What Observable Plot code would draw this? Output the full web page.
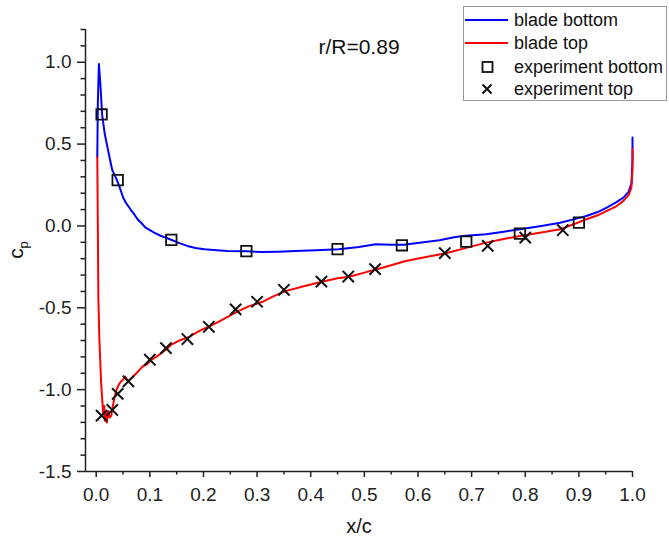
<!DOCTYPE html>
<html>
<head>
<meta charset="utf-8">
<script src="https://cdn.jsdelivr.net/npm/d3@7"></script>
<script src="https://cdn.jsdelivr.net/npm/@observablehq/plot@0.6"></script>
<style>
  html, body { margin: 0; padding: 0; background: #ffffff; }
  #chart { width: 669px; height: 540px; }
</style>
</head>
<body>
<div id="chart"></div>
<script>
// ---- Data ----
const bottomX = [0.002, 0.003, 0.005, 0.008, 0.011, 0.016, 0.021, 0.026, 0.030, 0.036, 0.041, 0.046, 0.050, 0.055, 0.060, 0.064, 0.070, 0.077, 0.085, 0.092, 0.100, 0.108, 0.120, 0.130, 0.141, 0.155, 0.170, 0.185, 0.202, 0.225, 0.245, 0.280, 0.309, 0.340, 0.371, 0.410, 0.452, 0.490, 0.521, 0.550, 0.574, 0.610, 0.640, 0.665, 0.683, 0.727, 0.760, 0.790, 0.830, 0.865, 0.890, 0.914, 0.935, 0.952, 0.970, 0.983, 0.993, 0.998, 1.000, 1.000];
const bottomCp = [0.42, 0.75, 0.99, 0.85, 0.68, 0.56, 0.48, 0.40, 0.34, 0.30, 0.26, 0.214, 0.175, 0.143, 0.12, 0.10, 0.075, 0.041, 0.015, -0.010, -0.025, -0.041, -0.060, -0.072, -0.086, -0.105, -0.122, -0.135, -0.143, -0.148, -0.153, -0.155, -0.159, -0.157, -0.153, -0.148, -0.143, -0.128, -0.112, -0.115, -0.115, -0.100, -0.088, -0.071, -0.061, -0.051, -0.035, -0.020, 0.000, 0.020, 0.040, 0.061, 0.085, 0.112, 0.145, 0.173, 0.210, 0.260, 0.400, 0.540];

const topX = [0.002, 0.003, 0.004, 0.006, 0.009, 0.011, 0.013, 0.015, 0.016, 0.018, 0.020, 0.022, 0.025, 0.028, 0.031, 0.034, 0.038, 0.042, 0.046, 0.050, 0.054, 0.059, 0.066, 0.075, 0.081, 0.087, 0.094, 0.102, 0.112, 0.122, 0.132, 0.140, 0.155, 0.172, 0.185, 0.197, 0.213, 0.228, 0.245, 0.265, 0.285, 0.309, 0.330, 0.353, 0.385, 0.421, 0.450, 0.472, 0.500, 0.523, 0.550, 0.577, 0.615, 0.652, 0.683, 0.727, 0.760, 0.790, 0.830, 0.865, 0.890, 0.914, 0.935, 0.952, 0.970, 0.983, 0.993, 0.998, 1.000, 1.000];
const topCp = [0.42, 0.0, -0.45, -0.70, -0.95, -1.05, -1.15, -1.10, -1.19, -1.14, -1.20, -1.13, -1.17, -1.16, -1.10, -1.05, -1.00, -0.97, -0.95, -0.94, -0.92, -0.949, -0.929, -0.90, -0.878, -0.857, -0.847, -0.820, -0.800, -0.776, -0.750, -0.725, -0.700, -0.680, -0.655, -0.633, -0.610, -0.586, -0.555, -0.520, -0.490, -0.465, -0.430, -0.398, -0.370, -0.341, -0.320, -0.310, -0.285, -0.265, -0.240, -0.214, -0.190, -0.167, -0.140, -0.102, -0.080, -0.061, -0.040, -0.020, 0.010, 0.041, 0.065, 0.092, 0.120, 0.153, 0.190, 0.235, 0.350, 0.470];

const expBottomX = [0.01, 0.04, 0.14, 0.28, 0.45, 0.57, 0.69, 0.79, 0.90];
const expBottomCp = [0.681, 0.280, -0.085, -0.154, -0.142, -0.118, -0.096, -0.047, 0.020];

const expTopX = [0.01, 0.03, 0.04, 0.06, 0.10, 0.13, 0.17, 0.21, 0.26, 0.30, 0.35, 0.42, 0.47, 0.52, 0.65, 0.73, 0.80, 0.87];
const expTopCp = [-1.159, -1.124, -1.026, -0.949, -0.817, -0.746, -0.691, -0.616, -0.510, -0.463, -0.390, -0.340, -0.309, -0.264, -0.166, -0.122, -0.071, -0.026];

const xTicks = [0, 0.1, 0.2, 0.3, 0.4, 0.5, 0.6, 0.7, 0.8, 0.9, 1.0];
const xMinorTicks = [0.05, 0.15, 0.25, 0.35, 0.45, 0.55, 0.65, 0.75, 0.85, 0.95];
const yTicks = [-1.5, -1.0, -0.5, 0.0, 0.5, 1.0];
const yMinorTicks = [-1.4, -1.3, -1.2, -1.1, -0.9, -0.8, -0.7, -0.6, -0.4, -0.3, -0.2, -0.1, 0.1, 0.2, 0.3, 0.4, 0.6, 0.7, 0.8, 0.9, 1.1, 1.2];

const seriesNames = ["blade bottom", "blade top", "experiment bottom", "experiment top"];
const annotation = "r/R=0.89";
const xLabel = "x/c";

// ---- Build tables ----
const bottom = bottomX.map((x, i) => ({x, cp: bottomCp[i]}));
const top_ = topX.map((x, i) => ({x, cp: topCp[i]}));
const expBottom = expBottomX.map((x, i) => ({x, cp: expBottomCp[i]}));
const expTop = expTopX.map((x, i) => ({x, cp: expTopCp[i]}));

const FONT = "'Liberation Sans', Arial, Helvetica, sans-serif";
const AX = "#222";

const plot = Plot.plot({
  width: 669,
  height: 540,
  marginLeft: 85,
  marginRight: 37,
  marginTop: 29,
  marginBottom: 69,
  style: {fontFamily: FONT, fontSize: "19px", background: "#ffffff", color: AX, overflow: "visible"},
  x: {domain: [-0.02, 1.0]},
  y: {domain: [-1.5, 1.2]},
  marks: [
    Plot.axisX({ticks: xTicks, tickSize: 6, tickPadding: 10, tickFormat: d => d.toFixed(1), fontSize: 19, strokeWidth: 1.5, label: null}),
    Plot.axisX({ticks: xMinorTicks, tickSize: 3.5, tickFormat: () => "", strokeWidth: 1.5, label: null}),
    Plot.axisY({ticks: yTicks, tickSize: 8, tickPadding: 6, tickFormat: d => d.toFixed(1), fontSize: 19, strokeWidth: 1.5, label: null}),
    Plot.axisY({ticks: yMinorTicks, tickSize: 4.5, tickFormat: () => "", strokeWidth: 1.5, label: null}),
    Plot.ruleY([-1.5], {stroke: AX, strokeWidth: 1.5}),
    Plot.ruleX([-0.02], {stroke: AX, strokeWidth: 1.5}),
    Plot.line(bottom, {x: "x", y: "cp", stroke: "#0000ff", strokeWidth: 2}),
    Plot.line(top_, {x: "x", y: "cp", stroke: "#ff0000", strokeWidth: 2}),
    Plot.dot(expBottom, {x: "x", y: "cp", symbol: "square", r: 5.9, stroke: "#111", strokeWidth: 1.8, fill: "none"}),
    Plot.dot(expTop, {x: "x", y: "cp", symbol: "times", r: 5.2, stroke: "#111", strokeWidth: 2}),
    Plot.text([annotation], {frameAnchor: "top", dy: 18, fontSize: 21, fill: "#111", lineAnchor: "middle"}),
    Plot.text([xLabel], {frameAnchor: "bottom", dy: 55, fontSize: 20, fill: "#111", lineAnchor: "middle"})
  ]
});

document.getElementById("chart").appendChild(plot);

// ---- y label with subscript, and legend ----
const svg = d3.select(plot);
const yl = svg.append("text")
  .attr("transform", "translate(23,250) rotate(-90)")
  .attr("text-anchor", "middle")
  .attr("font-family", FONT)
  .attr("fill", "#111");
yl.append("tspan").attr("font-size", 21).text("c");
yl.append("tspan").attr("font-size", 13).attr("dy", 5).text("p");

const lg = svg.append("g").attr("font-family", FONT).attr("font-size", 18).attr("fill", "#111").attr("text-anchor", "start");
lg.append("rect").attr("x", 463.5).attr("y", 6.5).attr("width", 203).attr("height", 94)
  .attr("fill", "#fff").attr("stroke", "#999").attr("stroke-width", 1);
const rowsY = [20, 43, 67, 89];
lg.append("line").attr("x1", 465).attr("x2", 508).attr("y1", rowsY[0]).attr("y2", rowsY[0]).attr("stroke", "#0000ff").attr("stroke-width", 2);
lg.append("line").attr("x1", 465).attr("x2", 508).attr("y1", rowsY[1]).attr("y2", rowsY[1]).attr("stroke", "#ff0000").attr("stroke-width", 2);
lg.append("rect").attr("x", 482.5).attr("y", rowsY[2] - 5).attr("width", 10).attr("height", 10)
  .attr("fill", "none").attr("stroke", "#111").attr("stroke-width", 1.8);
lg.append("path").attr("d", `M${482.5},${rowsY[3]-4.5}L${491.5},${rowsY[3]+4.5}M${482.5},${rowsY[3]+4.5}L${491.5},${rowsY[3]-4.5}`)
  .attr("stroke", "#111").attr("stroke-width", 2).attr("fill", "none");
seriesNames.forEach((name, i) => {
  lg.append("text").attr("x", 514).attr("y", rowsY[i]).attr("dy", "0.35em").attr("text-anchor", "start").text(name);
});
</script>
</body>
</html>
